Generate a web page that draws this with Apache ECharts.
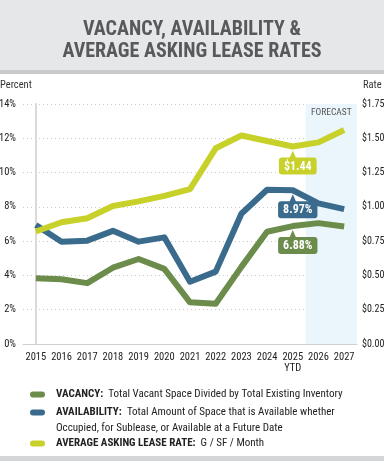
<!DOCTYPE html>
<html><head><meta charset="utf-8">
<script src="https://cdn.jsdelivr.net/npm/echarts@6/dist/echarts.min.js"></script>
<style>html,body{margin:0;padding:0;background:#fff}#c{width:384px;height:461px}</style>
</head><body><div id="c"></div>
<script>
const years = ['2015','2016','2017','2018','2019','2020','2021','2022','2023','2024','2025','2026','2027'];
const vacancy = [3.83, 3.78, 3.55, 4.45, 4.96, 4.38, 2.43, 2.35, 4.5, 6.55, 6.88, 7.05, 6.85];
const availability = [6.94, 5.97, 6.03, 6.6, 5.97, 6.22, 3.63, 4.22, 7.6, 9.0, 8.97, 8.2, 7.87];
const rate = [0.82, 0.888, 0.917, 1.006, 1.04, 1.08, 1.13, 1.427, 1.52, 1.48, 1.44, 1.47, 1.56];
const percentTicks = [0, 2, 4, 6, 8, 10, 12, 14];
const rateTicks = [0, 0.25, 0.5, 0.75, 1.0, 1.25, 1.5, 1.75];
const labelIndex = 10;
const forecastRange = [10.5, 12.5];

const FONT = '"Roboto Condensed", "DejaVu Sans Condensed", sans-serif';
const GREEN = '#6b8c4b', BLUE = '#3a6b8d', YEL = '#c7d12a';
const chart = echarts.init(document.getElementById('c'), null, {renderer: 'canvas'});

function callout(data, color, text) {
  return {
    symbol: 'triangle', symbolSize: [7, 8], symbolOffset: [0, 8],
    silent: true,
    itemStyle: {color: color},
    label: {
      show: true, position: 'bottom', distance: 0, offset: [5, -1],
      formatter: text, backgroundColor: color, borderRadius: 3,
      padding: [3, 5, 2, 5], color: '#fff', fontWeight: 'bold', fontSize: 12, fontFamily: FONT
    },
    data: [{coord: [labelIndex, data[labelIndex]]}]
  };
}
function pillLegend(name, top, bold, rest) {
  return {
    show: true, left: 30, top: top, padding: 0, selectedMode: false,
    itemWidth: 15, itemHeight: 6,
    icon: 'path://M3,0 L12,0 A3,3 0 0 1 12,6 L3,6 A3,3 0 0 1 3,0 Z',
    data: [name],
    formatter: () => '{s|}{b|' + bold + '}{r|' + rest + '}',
    textStyle: {
      fontFamily: FONT, fontSize: 11, color: '#222',
      rich: {
        s: {width: 6},
        b: {fontWeight: 'bold', fontFamily: FONT, fontSize: 11, color: '#222'},
        r: {fontFamily: FONT, fontSize: 11, color: '#222'}
      }
    }
  };
}

chart.setOption({
  animation: false,
  textStyle: {fontFamily: FONT},
  grid: {left: 23, right: 27, top: 104, bottom: 117, containLabel: false, outerBoundsMode: 'none'},
  graphic: [
    {type: 'rect', left: 0, top: 0, shape: {width: 384, height: 70}, style: {fill: '#e6e7e8'}, z: -10},
    {type: 'rect', left: 0, top: 70, shape: {width: 384, height: 4}, style: {fill: '#c9cacc'}, z: -10},
    {type: 'rect', left: 0, top: 456, shape: {width: 384, height: 5}, style: {fill: '#d5d6d8'}, z: -10},
    {type: 'text', left: 0, top: 80, style: {text: 'Percent', font: '10.5px ' + FONT, fill: '#333'}},
    {type: 'text', left: 363, top: 80, style: {text: 'Rate', font: '10.5px ' + FONT, fill: '#333'}},
    {type: 'text', left: 56, top: 423, style: {text: 'Occupied, for Sublease, or Available at a Future Date', font: '11px ' + FONT, fill: '#222'}}
  ],
  title: {
    text: 'VACANCY, AVAILABILITY &\nAVERAGE ASKING LEASE RATES',
    left: 'center', top: 14,
    textStyle: {fontFamily: FONT, fontWeight: 'bold', fontSize: 20, color: '#58595b', lineHeight: 22, align: 'center'}
  },
  legend: [
    pillLegend('Vacancy', 389, 'VACANCY:', '  Total Vacant Space Divided by Total Existing Inventory'),
    pillLegend('Availability', 407, 'AVAILABILITY:', '  Total Amount of Space that is Available whether'),
    pillLegend('Rate', 438, 'AVERAGE ASKING LEASE RATE:', '  G / SF / Month')
  ],
  xAxis: [
    {
      type: 'category', data: years, boundaryGap: true,
      axisLine: {show: true, lineStyle: {color: '#cfcfcf', width: 1}},
      axisTick: {show: false},
      axisLabel: {
        interval: 0, margin: 8, fontSize: 10.5, color: '#222', fontFamily: FONT, lineHeight: 11,
        formatter: v => v === '2025' ? '2025\nYTD' : v
      }
    },
    {type: 'value', min: -0.5, max: 12.5, show: false}
  ],
  yAxis: [
    {
      type: 'value', min: percentTicks[0], max: percentTicks[percentTicks.length - 1], interval: 2,
      axisLine: {show: true, lineStyle: {color: '#d9d9d9', width: 2}},
      axisTick: {show: false},
      axisLabel: {margin: 7, fontSize: 10.5, color: '#222', fontFamily: FONT, formatter: '{value}%'},
      splitLine: {show: true, lineStyle: {color: '#c8c8c8', type: [1, 3], width: 1}}
    },
    {
      type: 'value', min: rateTicks[0], max: rateTicks[rateTicks.length - 1], interval: 0.25,
      axisLine: {show: false}, axisTick: {show: false}, splitLine: {show: false},
      axisLabel: {margin: 5, fontSize: 10, color: '#222', fontFamily: FONT, formatter: v => '$' + v.toFixed(2)}
    }
  ],
  series: [
    {
      type: 'line', name: 'forecast', xAxisIndex: 1, yAxisIndex: 0, data: [], z: 1, silent: true,
      markArea: {
        silent: true,
        itemStyle: {color: '#eaf6fc'},
        label: {show: true, position: 'insideTop', distance: 4, color: '#555', fontSize: 9.5, fontFamily: FONT, formatter: 'FORECAST'},
        data: [[{xAxis: forecastRange[0]}, {xAxis: forecastRange[1]}]]
      }
    },
    {
      type: 'line', name: 'Vacancy', yAxisIndex: 0, z: 3, data: vacancy,
      symbol: 'none', lineStyle: {color: GREEN, width: 6, join: 'round'}, itemStyle: {color: GREEN},
      markPoint: callout(vacancy, GREEN, vacancy[labelIndex].toFixed(2) + '%')
    },
    {
      type: 'line', name: 'Availability', yAxisIndex: 0, z: 4, data: availability,
      symbol: 'none', lineStyle: {color: BLUE, width: 6, join: 'round'}, itemStyle: {color: BLUE},
      markPoint: callout(availability, BLUE, availability[labelIndex].toFixed(2) + '%')
    },
    {
      type: 'line', name: 'Rate', yAxisIndex: 1, z: 5, data: rate,
      symbol: 'none', lineStyle: {color: YEL, width: 6, join: 'round'}, itemStyle: {color: YEL},
      markPoint: callout(rate, YEL, '$' + rate[labelIndex].toFixed(2))
    }
  ]
});
</script></body></html>
